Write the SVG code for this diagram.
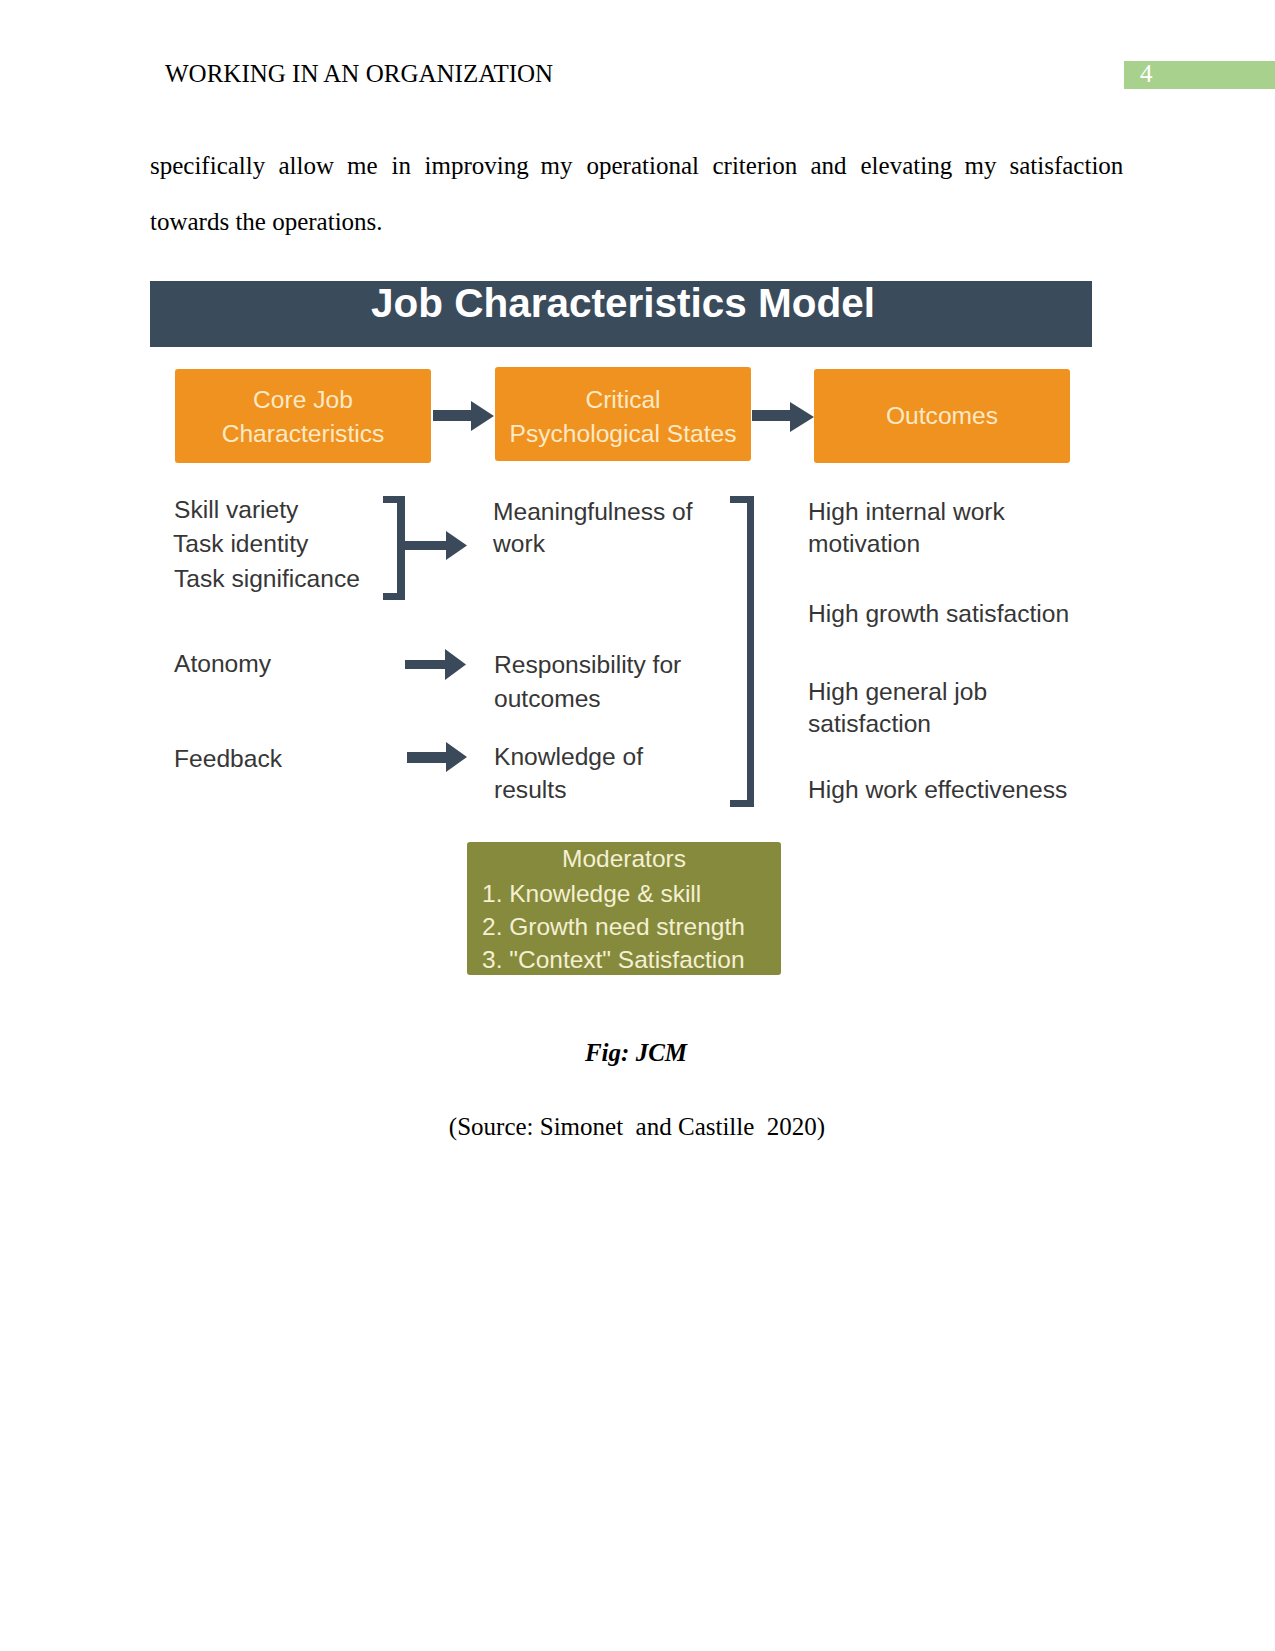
<svg xmlns="http://www.w3.org/2000/svg" width="1275" height="1651" viewBox="0 0 1275 1651">
<style>
.serif{font-family:"Liberation Serif","Times New Roman",serif;font-size:25px;fill:#000}
.box{fill:#f0921f}
.boxt{font-family:"Liberation Sans",Arial,sans-serif;font-size:24.6px;fill:#fde9c6;text-anchor:middle}
.lbl{font-family:"Liberation Sans",Arial,sans-serif;font-size:24.6px;fill:#363636}
.dark{fill:#3a4a5a}
.modt{font-family:"Liberation Sans",Arial,sans-serif;font-size:24.5px;fill:#f4f0d2}
</style>
<rect width="1275" height="1651" fill="#fff"/>
<g id="page-header">
<text class="serif" x="165" y="82">WORKING IN AN ORGANIZATION</text>
<rect x="1124" y="61" width="151" height="28" fill="#a9d18e"/>
<text class="serif" x="1140" y="82" style="fill:#fff">4</text>
</g>
<g id="body-text">
<text class="serif" y="174"><tspan x="150">specifically</tspan><tspan x="278.5">allow</tspan><tspan x="347">me</tspan><tspan x="391.5">in</tspan><tspan x="424.5">improving</tspan><tspan x="540.5">my</tspan><tspan x="586.5">operational</tspan><tspan x="712.5">criterion</tspan><tspan x="810.5">and</tspan><tspan x="860.5">elevating</tspan><tspan x="964.5">my</tspan><tspan x="1009.5">satisfaction</tspan></text>
<text class="serif" x="150" y="230">towards the operations.</text>
</g>
<g id="title">
<rect x="150" y="281" width="942" height="66" fill="#3a4b5c"/>
<text x="623" y="317" text-anchor="middle" font-family="Liberation Sans, Arial, sans-serif" font-weight="bold" font-size="40.5" fill="#fff">Job Characteristics Model</text>
</g>
<g id="core-job-characteristics">
<rect class="box" x="175" y="369" width="256" height="94" rx="3"/>
<text class="boxt" x="303" y="408">Core Job</text>
<text class="boxt" x="303" y="442">Characteristics</text>
</g>
<g id="critical-psychological-states">
<rect class="box" x="495" y="367" width="256" height="94" rx="3"/>
<text class="boxt" x="623" y="408">Critical</text>
<text class="boxt" x="623" y="442">Psychological States</text>
</g>
<g id="outcomes">
<rect class="box" x="814" y="369" width="256" height="94" rx="3"/>
<text class="boxt" x="942" y="424">Outcomes</text>
</g>
<g id="core-items">
<text class="lbl" x="174" y="518">Skill variety</text>
<text class="lbl" x="173" y="552">Task identity</text>
<text class="lbl" x="174" y="587">Task significance</text>
<text class="lbl" x="174" y="672">Atonomy</text>
<text class="lbl" x="174" y="767">Feedback</text>
</g>
<g id="state-items">
<text class="lbl" x="493" y="520">Meaningfulness of</text>
<text class="lbl" x="493" y="552">work</text>
<text class="lbl" x="494" y="673">Responsibility for</text>
<text class="lbl" x="494" y="707">outcomes</text>
<text class="lbl" x="494" y="765">Knowledge of</text>
<text class="lbl" x="494" y="798">results</text>
</g>
<g id="outcome-items">
<text class="lbl" x="808" y="520">High internal work</text>
<text class="lbl" x="808" y="552">motivation</text>
<text class="lbl" x="808" y="622">High growth satisfaction</text>
<text class="lbl" x="808" y="700">High general job</text>
<text class="lbl" x="808" y="732">satisfaction</text>
<text class="lbl" x="808" y="798">High work effectiveness</text>
</g>
<g id="moderators">
<rect x="467" y="842" width="314" height="133" rx="3" fill="#868a3d"/>
<text class="modt" x="624" y="867" text-anchor="middle">Moderators</text>
<text class="modt" x="482" y="902">1. Knowledge &amp; skill</text>
<text class="modt" x="482" y="935">2. Growth need strength</text>
<text class="modt" x="482" y="968">3. "Context" Satisfaction</text>
</g>
<g id="connectors">
<path class="dark" d="M433 410H471V401L494 416L471 431V421H433Z"/>
<path class="dark" d="M752 410H790V402L814 417L790 432V421H752Z"/>
<path class="dark" d="M383 496H405V600H383V593H397V503H383Z"/>
<path class="dark" d="M405 541H446V531L467 545.5L446 560V550H405Z"/>
<path class="dark" d="M405 660H445V649L466 664.5L445 680V669H405Z"/>
<path class="dark" d="M407 752H446V742L467 757L446 772V763H407Z"/>
<path class="dark" d="M730 496H754V807H730V800H747V503H730Z"/>
</g>
<g id="caption">
<text x="636" y="1061" text-anchor="middle" font-family="Liberation Serif, Times New Roman, serif" font-size="25" font-weight="bold" font-style="italic">Fig: JCM</text>
<text class="serif" x="637" y="1135" text-anchor="middle" xml:space="preserve" style="white-space:pre">(Source: Simonet  and Castille  2020)</text>
</g>
</svg>
